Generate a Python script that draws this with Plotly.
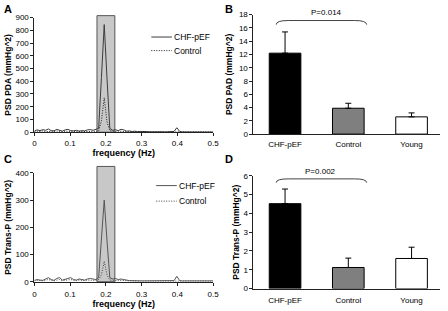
import plotly.graph_objects as go

# ---------------- data ----------------
freq = [0.0, 0.0078, 0.0156, 0.0234, 0.0313, 0.0391, 0.0469, 0.0547, 0.0625, 0.0703,
        0.0781, 0.0859, 0.0938, 0.1016, 0.1094, 0.1172, 0.1250, 0.1328, 0.1406, 0.1484,
        0.1563, 0.1641, 0.1719, 0.1797, 0.1875, 0.1953, 0.2031, 0.2109, 0.2188, 0.2266,
        0.2344, 0.2422, 0.2500, 0.2578, 0.2656, 0.2734, 0.2813, 0.2891, 0.2969, 0.3047,
        0.3125, 0.3203, 0.3281, 0.3359, 0.3438, 0.3516, 0.3594, 0.3672, 0.3750, 0.3828,
        0.3906, 0.3984, 0.4063, 0.4141, 0.4219, 0.4297, 0.4375, 0.4453, 0.4531, 0.4609,
        0.4688, 0.4766, 0.4844, 0.4922, 0.5000]

chf_pda = [10, 18, 12, 20, 15, 25, 12, 10, 22, 15,
           8, 18, 22, 12, 10, 15, 8, 12, 10, 18,
           20, 15, 25, 30, 430, 845, 420, 30, 15, 20,
           12, 22, 18, 8, 10, 5, 8, 4, 6, 3,
           5, 3, 4, 2, 4, 2, 3, 2, 3, 2,
           6, 35, 6, 2, 2, 1, 2, 1, 2, 1,
           1, 1, 1, 1, 1]

ctrl_pda = [5, 8, 5, 10, 6, 4, 8, 5, 10, 6,
            4, 8, 5, 6, 8, 4, 6, 5, 8, 6,
            5, 8, 6, 10, 90, 270, 80, 12, 8, 6,
            8, 5, 6, 4, 3, 4, 3, 3, 2, 3,
            2, 2, 2, 2, 2, 2, 2, 2, 2, 2,
            3, 6, 3, 2, 2, 2, 2, 2, 2, 2,
            2, 2, 2, 2, 2]

chf_tp = [5, 8, 6, 5, 10, 15, 8, 5, 12, 15,
          6, 8, 12, 15, 8, 6, 10, 8, 6, 10,
          12, 10, 8, 15, 160, 300, 150, 15, 10, 12,
          8, 10, 8, 5, 4, 4, 3, 3, 3, 3,
          3, 3, 3, 3, 3, 3, 3, 3, 3, 3,
          4, 20, 4, 3, 3, 3, 3, 3, 3, 3,
          3, 3, 3, 3, 3]

ctrl_tp = [3, 5, 4, 3, 6, 8, 5, 3, 6, 8,
           4, 5, 6, 8, 5, 4, 6, 5, 4, 6,
           6, 5, 5, 8, 25, 75, 25, 6, 5, 6,
           4, 5, 4, 3, 3, 3, 2, 2, 2, 2,
           2, 2, 2, 2, 2, 2, 2, 2, 2, 2,
           2, 3, 2, 2, 2, 2, 2, 2, 2, 2,
           2, 2, 2, 2, 2]

groups = ["CHF-pEF", "Control", "Young"]
pad_mean = [12.2, 3.9, 2.6]
pad_err = [3.2, 0.75, 0.6]
tp_mean = [4.52, 1.12, 1.6]
tp_err = [0.78, 0.5, 0.6]
band = [0.175, 0.225]
series_names = ["CHF-pEF", "Control"]
p_pad = "P=0.014"
p_tp = "P=0.002"

# ---------------- figure ----------------
FONT = "Arial, Liberation Sans, sans-serif"
W, H = 448, 311


def px(v):
    return v / W


def py(v):
    return 1 - v / H


fig = go.Figure()

chf_style_A = dict(color="#3c3c3c", width=1)
ctrl_style_A = dict(color="#1a1a1a", width=1, dash="1px,1.5px")
chf_style_C = dict(color="#555555", width=1)
ctrl_style_C = dict(color="#444444", width=1, dash="1px,1.5px")

# Panel A lines
fig.add_trace(go.Scatter(x=freq, y=chf_pda, mode="lines", name=series_names[0],
                         line=chf_style_A, xaxis="x", yaxis="y", showlegend=False))
fig.add_trace(go.Scatter(x=freq, y=ctrl_pda, mode="lines", name=series_names[1],
                         line=ctrl_style_A, xaxis="x", yaxis="y", showlegend=False))
# Panel C lines
fig.add_trace(go.Scatter(x=freq, y=chf_tp, mode="lines", name=series_names[0],
                         line=chf_style_C, xaxis="x3", yaxis="y3", showlegend=False))
fig.add_trace(go.Scatter(x=freq, y=ctrl_tp, mode="lines", name=series_names[1],
                         line=ctrl_style_C, xaxis="x3", yaxis="y3", showlegend=False))

bar_colors = ["#000000", "#7f7f7f", "#ffffff"]
# Panel B bars
fig.add_trace(go.Bar(x=groups, y=pad_mean, width=0.5, showlegend=False,
                     marker=dict(color=bar_colors, line=dict(color="black", width=1)),
                     error_y=dict(type="data", symmetric=False, array=pad_err,
                                  arrayminus=[0, 0, 0], color="black", thickness=1, width=3),
                     xaxis="x2", yaxis="y2"))
# Panel D bars
fig.add_trace(go.Bar(x=groups, y=tp_mean, width=0.5, showlegend=False,
                     marker=dict(color=bar_colors, line=dict(color="black", width=1)),
                     error_y=dict(type="data", symmetric=False, array=tp_err,
                                  arrayminus=[0, 0, 0], color="black", thickness=1, width=3),
                     xaxis="x4", yaxis="y4"))

tick_font = dict(family=FONT, size=8, color="black")
title_font = dict(family=FONT, size=8.5, color="black")


def line_xaxis(domain, anchor, lab_off, title_off):
    return dict(domain=domain, anchor=anchor, range=[0, 0.5], dtick=0.1, tick0=0,
                showline=True, linecolor="#222", linewidth=1, ticks="outside", ticklen=3,
                tickcolor="#222", showgrid=False, zeroline=False, tickfont=tick_font,
                tickformat="~g", ticklabelstandoff=lab_off,
                title=dict(text="<b>frequency (Hz)</b>",
                           font=dict(family=FONT, size=9, color="black"),
                           standoff=title_off))


def yax(domain, anchor, rng, dtick, title, stand):
    return dict(domain=domain, anchor=anchor, range=rng, dtick=dtick, tick0=0,
                showline=True, linecolor="#222", linewidth=1, ticks="outside", ticklen=3,
                tickcolor="#222", showgrid=False, zeroline=False, tickfont=tick_font,
                title=dict(text="<b>" + title + "</b>", font=title_font, standoff=stand))


def bar_xaxis(domain, anchor, standoff):
    return dict(domain=domain, anchor=anchor, type="category", range=[-0.5, 2.45],
                showline=True, linecolor="#222", linewidth=1, ticks="", showgrid=False,
                zeroline=False, tickfont=tick_font, ticklabelstandoff=standoff)


xdomL = [px(33), px(215)]
xdomR = [px(256), px(446)]

fig.update_layout(
    width=W, height=H,
    margin=dict(l=0, r=0, t=0, b=0),
    paper_bgcolor="white", plot_bgcolor="white",
    font=dict(family=FONT, color="black"),
    showlegend=False,
    hovermode=False,
    xaxis=line_xaxis(xdomL, "y", 0, 1),
    yaxis=yax([py(132), py(14)], "x", [0, 900], 100, "PSD PDA (mmHg^2)", 2),
    xaxis2=bar_xaxis(xdomR, "y2", 2),
    yaxis2=yax([py(134), py(11)], "x2", [0, 18], 2, "PSD PAD (mmHg^2)", 4),
    xaxis3=line_xaxis(xdomL, "y3", 2, 0),
    yaxis3=yax([py(286), py(174)], "x3", [0, 400], 100, "PSD Trans-P (mmHg^2)", 2),
    xaxis4=bar_xaxis(xdomR, "y4", 4),
    yaxis4=yax([py(293), py(177)], "x4", [0, 6], 1, "PSD Trans-P (mmHg^2)", 2),
)

# gray frequency bands
fig.add_shape(type="rect", xref="x", yref="y domain", x0=band[0], x1=band[1], y0=0, y1=1.017,
              fillcolor="#c8c8c8", line=dict(color="#555", width=1), layer="below")
fig.add_shape(type="rect", xref="x3", yref="y3 domain", x0=band[0], x1=band[1], y0=0, y1=1.06,
              fillcolor="#c8c8c8", line=dict(color="#555", width=1), layer="below")

# manual legends (line sample + text)
legend_font = dict(family=FONT, size=8.5, color="black")
for (lx, ly1, ly2, s1, s2) in [(152, 34, 48, chf_style_A, ctrl_style_A),
                               (157, 187, 203, chf_style_C, ctrl_style_C)]:
    for yy, st, nm in [(ly1, s1, series_names[0]), (ly2, s2, series_names[1])]:
        fig.add_shape(type="line", xref="paper", yref="paper", x0=px(lx), x1=px(lx + 21),
                      y0=py(yy), y1=py(yy), line=st)
        fig.add_annotation(x=px(lx + 21), y=py(yy), xref="paper", yref="paper", text=nm,
                           showarrow=False, xanchor="left", yanchor="middle", font=legend_font)

# significance brackets
fig.add_shape(type="path", xref="x2", yref="y2",
              path="M -0.14,16.5 Q -0.14,17.12 0.05,17.12 L 1.1,17.12 Q 1.29,17.12 1.29,16.5",
              line=dict(color="#444", width=1))
fig.add_shape(type="path", xref="x4", yref="y4",
              path="M -0.14,5.64 Q -0.14,5.84 0.05,5.84 L 1.1,5.84 Q 1.29,5.84 1.29,5.64",
              line=dict(color="#444", width=1))
fig.add_annotation(x=0.66, y=py(9), xref="x2", yref="paper", text=p_pad, showarrow=False,
                   yanchor="middle", font=dict(family=FONT, size=8, color="black"))
fig.add_annotation(x=0.56, y=py(172), xref="x4", yref="paper", text=p_tp, showarrow=False,
                   yanchor="middle", font=dict(family=FONT, size=8, color="black"))

# panel letters
for letter, x, y in [("A", 0, 5), ("B", 225, 5), ("C", 0, 160), ("D", 225, 160)]:
    fig.add_annotation(x=px(x), y=py(y), xref="paper", yref="paper", text="<b>" + letter + "</b>",
                       showarrow=False, xanchor="left", yanchor="middle",
                       font=dict(family=FONT, size=11, color="black"))

fig.write_html("out.html", config={"displayModeBar": False},
               post_script="document.body.style.margin='0';")
